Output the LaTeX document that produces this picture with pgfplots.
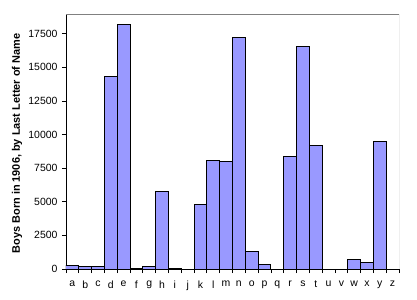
\documentclass[border=0pt]{standalone}
\usepackage{pgfplots}
\pgfplotsset{compat=1.18}
\usepackage{fontspec}
\setmainfont{Liberation Sans}
\definecolor{barblue}{HTML}{9999FF}
\definecolor{framegray}{HTML}{808080}
\pgfplotstableread{
x v
0 280
1 170
2 180
3 14280
4 18150
5 50
6 180
7 5800
8 50
9 0
10 4810
11 8080
12 8000
13 17230
14 1310
15 350
16 0
17 8400
18 16560
19 9200
20 0
21 0
22 740
23 500
24 9500
25 0
}\datatable
\begin{document}
\begin{tikzpicture}[x=1bp,y=1bp]
\begin{axis}[
  scale only axis, width=333bp, height=255bp,
  xmin=-0.5, xmax=25.5, ymin=0, ymax=18965,
  axis x line*=bottom, axis y line*=left,
  x axis line style={-}, y axis line style={-},
  xtick={0,...,25},
  xticklabels={a,b,c,d,e,f,g,h,i,j,k,l,m,n,o,p,q,r,s,t,u,v,w,x,y,z},
  minor xtick={-0.5,0.5,...,25.5},
  major x tick style={draw=none},
  ytick={0,2500,...,17500},
  tick align=outside,
  major tick length=4bp, minor tick length=4bp,
  tick style={black, line width=0.8bp},
  scaled y ticks=false,
  yticklabel style={/pgf/number format/fixed, /pgf/number format/1000 sep={}, xshift=-1bp},
  xticklabel style={yshift=-4bp},
  /pgf/number format/assume math mode=true,
  ticklabel style={font=\fontsize{10.5}{12}\selectfont},
  ylabel={Boys Born in 1906, by Last Letter of Name},
  ylabel style={font=\fontsize{11}{12}\selectfont\bfseries, at={(axis description cs:0,0.5)}, anchor=center, rotate=0, yshift=49bp, xshift=-2bp},
  axis line style={line width=0.8bp},
]
\addplot[ybar, bar width=1, fill=barblue, draw=black, line width=1bp] table[x=x,y=v]{\datatable};
\draw[framegray, line width=0.8bp] (rel axis cs:0,1) -- (rel axis cs:1,1) -- (rel axis cs:1,0);
\coordinate (ll) at (rel axis cs:0,0);
\coordinate (ur) at (rel axis cs:1,1);
\end{axis}
\pgfresetboundingbox
\path[use as bounding box] ([shift={(-66bp,-31bp)}]ll) rectangle ([shift={(18bp,14bp)}]ur);
\end{tikzpicture}
\end{document}
